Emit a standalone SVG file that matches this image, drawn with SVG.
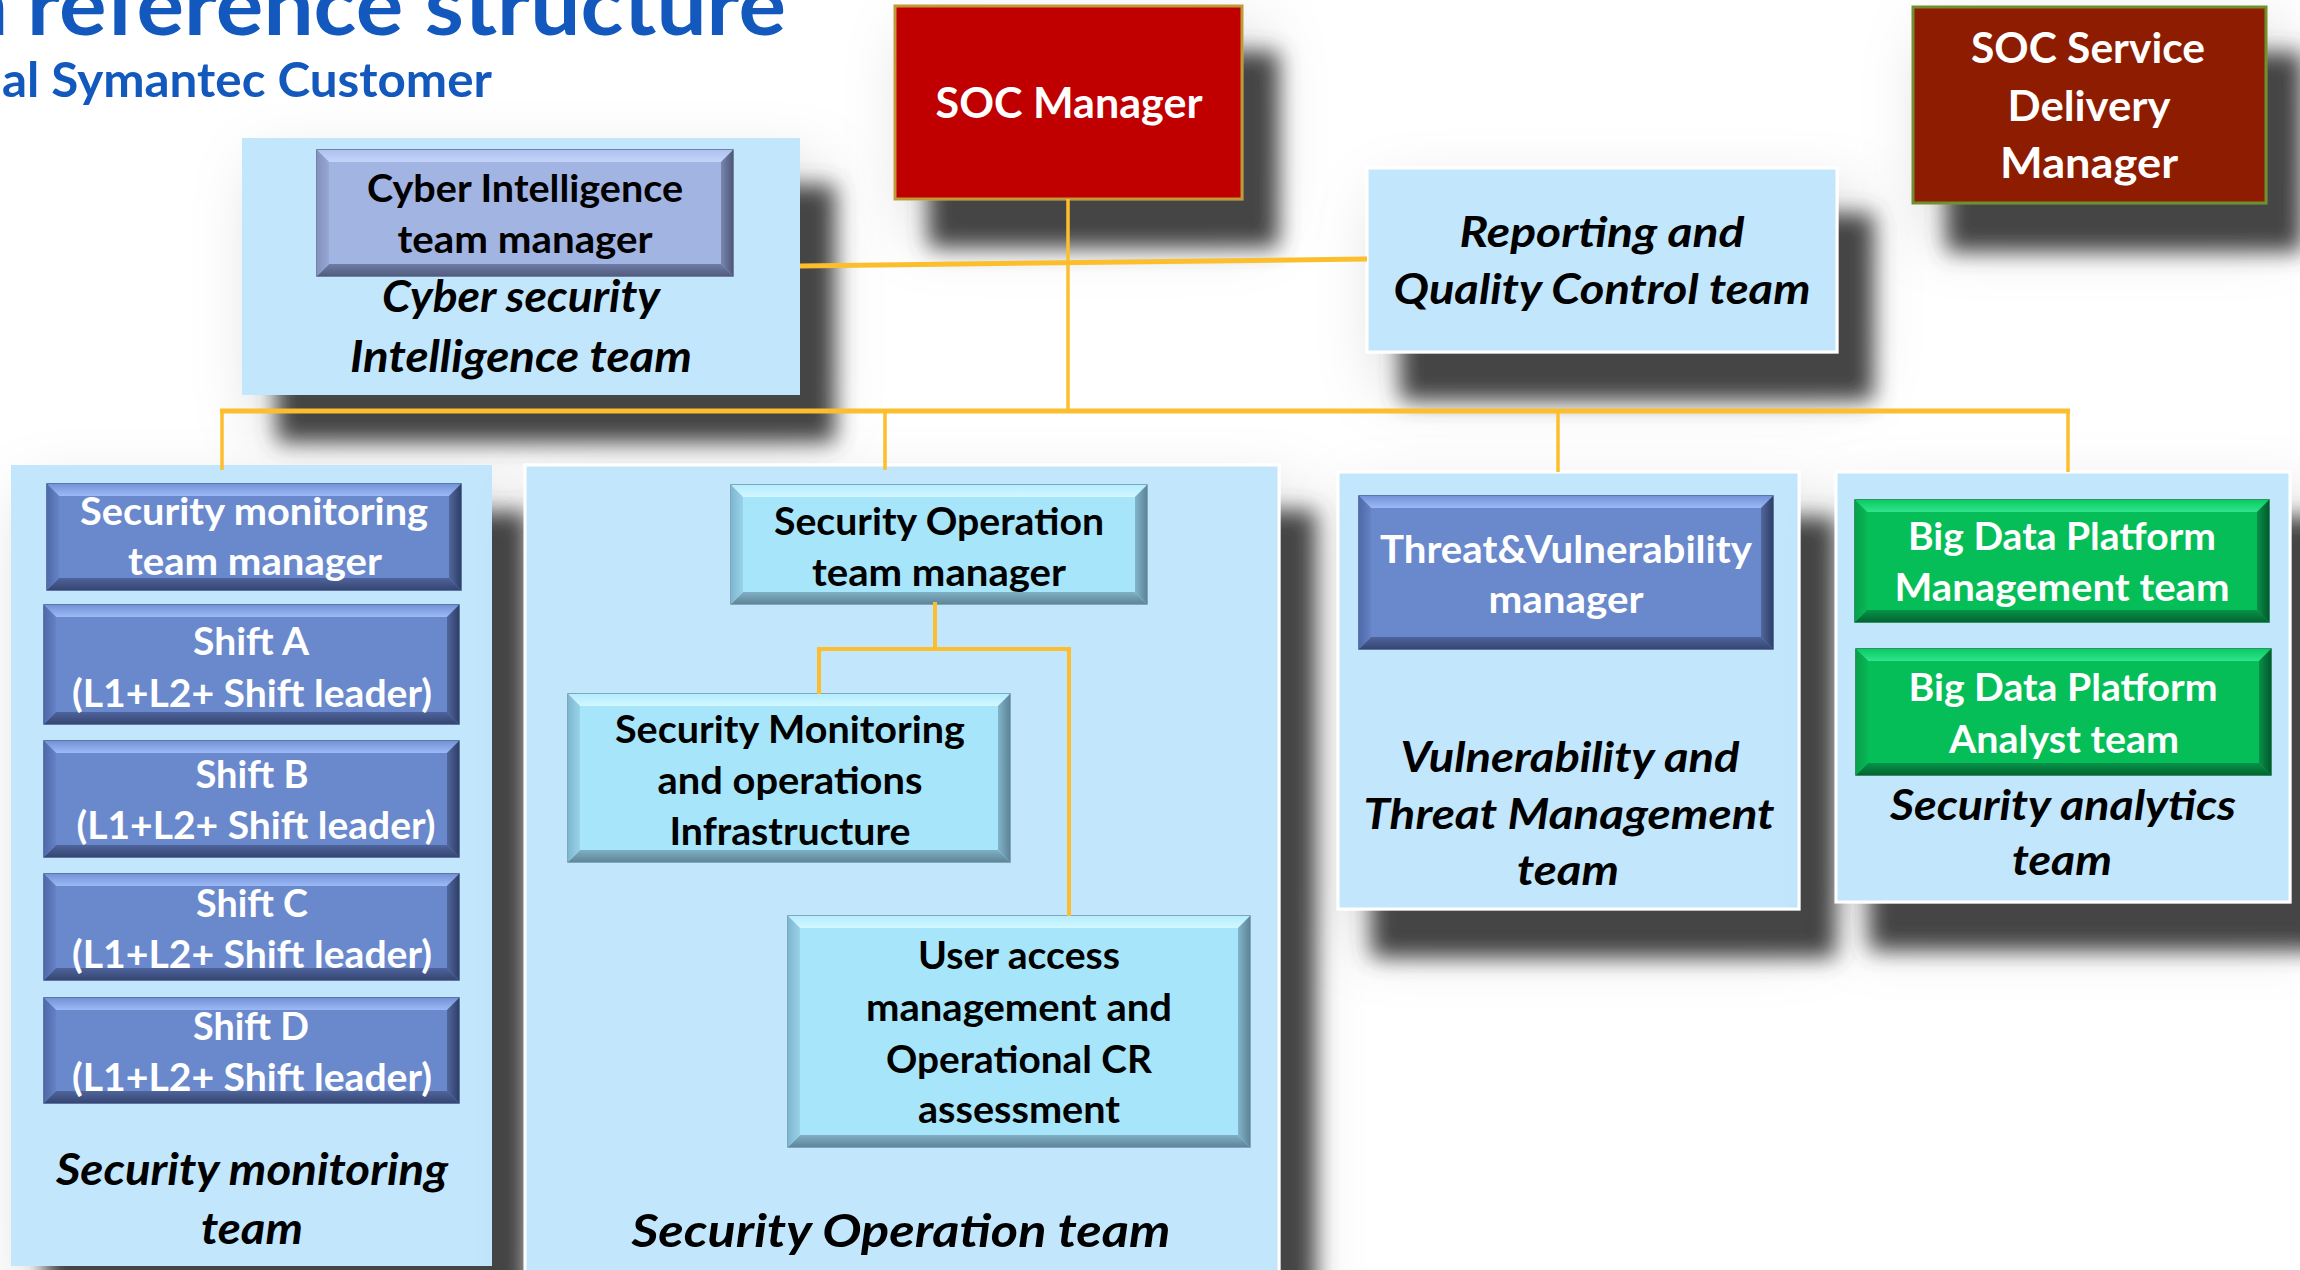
<svg xmlns="http://www.w3.org/2000/svg" width="2300" height="1270" viewBox="0 0 2300 1270">
  <style>
    .lbl{font-family:Lato,'Open Sans','Liberation Sans',sans-serif;font-weight:700;text-anchor:middle}
    .it{font-style:italic}
    .wt{fill:#ffffff}
    .bk{fill:#000000}
    .head{font-family:Lato,'Open Sans','Liberation Sans',sans-serif;font-weight:700;fill:#1358BC}
    .cont{fill:#C2E6FB}
    .wb{stroke:#ffffff;stroke-width:3}
    .conn{fill:none;stroke:#FDBE2E;stroke-linecap:butt}
    /* bevelled button faces */
    .blue0{fill:#6A89CD;stroke:#3D5186;stroke-width:1.5}
    .blueT{fill:url(#blueT)} .blueB{fill:url(#blueB)} .blueL{fill:url(#blueL)} .blueR{fill:url(#blueR)}
    .lav0{fill:#A2B4E2;stroke:#55618A;stroke-width:1.5}
    .lavT{fill:url(#lavT)} .lavB{fill:url(#lavB)} .lavL{fill:url(#lavL)} .lavR{fill:url(#lavR)}
    .cy0{fill:#A7E5FA;stroke:#6A93A8;stroke-width:1.5}
    .cyT{fill:url(#cyT)} .cyB{fill:url(#cyB)} .cyL{fill:url(#cyL)} .cyR{fill:url(#cyR)}
    .gr0{fill:#06BE58;stroke:#05733A;stroke-width:1.5}
    .grT{fill:url(#grT)} .grB{fill:url(#grB)} .grL{fill:url(#grL)} .grR{fill:url(#grR)}
  </style>
  <defs>
    <filter id="shadow" x="-30%" y="-40%" width="170%" height="200%">
      <feGaussianBlur in="SourceAlpha" stdDeviation="32" result="hb"/>
      <feOffset in="hb" dx="18" dy="30" result="ho"/>
      <feFlood flood-color="#000000" flood-opacity="0.17"/>
      <feComposite in2="ho" operator="in" result="haze"/>
      <feGaussianBlur in="SourceAlpha" stdDeviation="11" result="b"/>
      <feOffset in="b" dx="35" dy="47" result="o"/>
      <feFlood flood-color="#444444" flood-opacity="1"/>
      <feComposite in2="o" operator="in" result="dark"/>
      <feMerge>
        <feMergeNode in="haze"/>
        <feMergeNode in="dark"/>
        <feMergeNode in="SourceGraphic"/>
      </feMerge>
    </filter>
    <linearGradient id="blueT" x1="0" y1="0" x2="0" y2="1"><stop offset="0" stop-color="#7393D8"/><stop offset="1" stop-color="#9CB9F6"/></linearGradient>
    <linearGradient id="blueB" x1="0" y1="0" x2="0" y2="1"><stop offset="0" stop-color="#4E649C"/><stop offset="1" stop-color="#364672"/></linearGradient>
    <linearGradient id="blueL" x1="0" y1="0" x2="1" y2="0"><stop offset="0" stop-color="#4F69A8"/><stop offset="1" stop-color="#6482C6"/></linearGradient>
    <linearGradient id="blueR" x1="0" y1="0" x2="1" y2="0"><stop offset="0" stop-color="#50679F"/><stop offset="1" stop-color="#2F3F66"/></linearGradient>
    <linearGradient id="lavT" x1="0" y1="0" x2="0" y2="1"><stop offset="0" stop-color="#AFC1EE"/><stop offset="1" stop-color="#C4D4FA"/></linearGradient>
    <linearGradient id="lavB" x1="0" y1="0" x2="0" y2="1"><stop offset="0" stop-color="#6F7CA6"/><stop offset="1" stop-color="#525C7E"/></linearGradient>
    <linearGradient id="lavL" x1="0" y1="0" x2="1" y2="0"><stop offset="0" stop-color="#8391BD"/><stop offset="1" stop-color="#97A8D6"/></linearGradient>
    <linearGradient id="lavR" x1="0" y1="0" x2="1" y2="0"><stop offset="0" stop-color="#7886B0"/><stop offset="1" stop-color="#4E5878"/></linearGradient>
    <linearGradient id="cyT" x1="0" y1="0" x2="0" y2="1"><stop offset="0" stop-color="#B5EDFF"/><stop offset="1" stop-color="#D2F7FF"/></linearGradient>
    <linearGradient id="cyB" x1="0" y1="0" x2="0" y2="1"><stop offset="0" stop-color="#80AFC4"/><stop offset="1" stop-color="#5F8598"/></linearGradient>
    <linearGradient id="cyL" x1="0" y1="0" x2="1" y2="0"><stop offset="0" stop-color="#7FB6CF"/><stop offset="1" stop-color="#98D3EA"/></linearGradient>
    <linearGradient id="cyR" x1="0" y1="0" x2="1" y2="0"><stop offset="0" stop-color="#82B4CA"/><stop offset="1" stop-color="#5D8497"/></linearGradient>
    <linearGradient id="grT" x1="0" y1="0" x2="0" y2="1"><stop offset="0" stop-color="#0ACB62"/><stop offset="1" stop-color="#30E48C"/></linearGradient>
    <linearGradient id="grB" x1="0" y1="0" x2="0" y2="1"><stop offset="0" stop-color="#06934A"/><stop offset="1" stop-color="#04642F"/></linearGradient>
    <linearGradient id="grL" x1="0" y1="0" x2="1" y2="0"><stop offset="0" stop-color="#07A14B"/><stop offset="1" stop-color="#09B654"/></linearGradient>
    <linearGradient id="grR" x1="0" y1="0" x2="1" y2="0"><stop offset="0" stop-color="#07914A"/><stop offset="1" stop-color="#045A2C"/></linearGradient>
  </defs>

  <rect width="2300" height="1270" fill="#ffffff"/>

  <!-- page heading -->
  <g id="heading">
    <text class="head" x="8" y="35" font-size="85" text-anchor="end">a</text>
    <text class="head" x="27" y="35" font-size="85" textLength="759" lengthAdjust="spacingAndGlyphs">reference structure</text>
    <text class="head" x="2" y="97" font-size="48" textLength="490" lengthAdjust="spacingAndGlyphs">al Symantec Customer</text>
  </g>

  <!-- top level -->
  <g id="soc-manager">
    <rect x="895" y="6" width="347" height="193" fill="#C00000" stroke="#BF9A3A" stroke-width="3" filter="url(#shadow)"/>
    <text class="lbl wt" x="1069" y="118" font-size="42" textLength="267" lengthAdjust="spacingAndGlyphs">SOC Manager</text>
  </g>

  <g id="soc-service-delivery-manager">
    <rect x="1913" y="7" width="353" height="196" fill="#8E1B03" stroke="#6F8F2F" stroke-width="3" filter="url(#shadow)"/>
    <text class="lbl wt" x="2088" y="63" font-size="42" textLength="234" lengthAdjust="spacingAndGlyphs">SOC Service</text>
    <text class="lbl wt" x="2089" y="121" font-size="42" textLength="163" lengthAdjust="spacingAndGlyphs">Delivery</text>
    <text class="lbl wt" x="2089" y="178" font-size="42" textLength="178" lengthAdjust="spacingAndGlyphs">Manager</text>
  </g>

  <g id="cyber-intelligence-team">
    <rect class="cont" x="242" y="138" width="558" height="257" filter="url(#shadow)"/>
    <g id="cyber-intelligence-manager">
      <rect class="lav0" x="317" y="150" width="416" height="126"/>
      <polygon class="lavT" points="317,150 733,150 721,162 329,162"/>
      <polygon class="lavB" points="317,276 733,276 721,264 329,264"/>
      <polygon class="lavL" points="317,150 329,162 329,264 317,276"/>
      <polygon class="lavR" points="733,150 721,162 721,264 733,276"/>
      <text class="lbl bk" x="525" y="202" font-size="38" textLength="316" lengthAdjust="spacingAndGlyphs">Cyber Intelligence</text>
      <text class="lbl bk" x="525" y="253" font-size="38" textLength="255" lengthAdjust="spacingAndGlyphs">team manager</text>
    </g>
    <text class="lbl bk it" x="521" y="312" font-size="43" textLength="278" lengthAdjust="spacingAndGlyphs">Cyber security</text>
    <text class="lbl bk it" x="521" y="372" font-size="43" textLength="342" lengthAdjust="spacingAndGlyphs">Intelligence team</text>
  </g>

  <g id="reporting-quality-control-team">
    <rect class="cont wb" x="1367" y="168" width="470" height="184" filter="url(#shadow)"/>
    <text class="lbl bk it" x="1602" y="247" font-size="42" textLength="285" lengthAdjust="spacingAndGlyphs">Reporting and</text>
    <text class="lbl bk it" x="1602" y="304" font-size="42" textLength="417" lengthAdjust="spacingAndGlyphs">Quality Control team</text>
  </g>

  <!-- second level teams -->
  <g id="security-monitoring-team">
    <rect class="cont" x="11" y="465" width="481" height="801" filter="url(#shadow)"/>
    <g id="security-monitoring-manager">
      <rect class="blue0" x="47" y="484" width="414" height="106"/>
      <polygon class="blueT" points="47,484 461,484 449,496 59,496"/>
      <polygon class="blueB" points="47,590 461,590 449,578 59,578"/>
      <polygon class="blueL" points="47,484 59,496 59,578 47,590"/>
      <polygon class="blueR" points="461,484 449,496 449,578 461,590"/>
      <text class="lbl wt" x="254" y="525" font-size="38" textLength="348" lengthAdjust="spacingAndGlyphs">Security monitoring</text>
      <text class="lbl wt" x="255" y="575" font-size="38" textLength="254" lengthAdjust="spacingAndGlyphs">team manager</text>
    </g>
    <g id="shift-a">
      <rect class="blue0" x="44" y="605" width="415" height="119"/>
      <polygon class="blueT" points="44,605 459,605 447,617 56,617"/>
      <polygon class="blueB" points="44,724 459,724 447,712 56,712"/>
      <polygon class="blueL" points="44,605 56,617 56,712 44,724"/>
      <polygon class="blueR" points="459,605 447,617 447,712 459,724"/>
      <text class="lbl wt" x="251" y="655" font-size="38" textLength="116" lengthAdjust="spacingAndGlyphs">Shift A</text>
      <text class="lbl wt" x="252" y="707" font-size="38" textLength="360" lengthAdjust="spacingAndGlyphs">(L1+L2+ Shift leader)</text>
    </g>
    <g id="shift-b">
      <rect class="blue0" x="44" y="741" width="415" height="116"/>
      <polygon class="blueT" points="44,741 459,741 447,753 56,753"/>
      <polygon class="blueB" points="44,857 459,857 447,845 56,845"/>
      <polygon class="blueL" points="44,741 56,753 56,845 44,857"/>
      <polygon class="blueR" points="459,741 447,753 447,845 459,857"/>
      <text class="lbl wt" x="252" y="788" font-size="38" textLength="113" lengthAdjust="spacingAndGlyphs">Shift B</text>
      <text class="lbl wt" x="256" y="839" font-size="38" textLength="359" lengthAdjust="spacingAndGlyphs">(L1+L2+ Shift leader)</text>
    </g>
    <g id="shift-c">
      <rect class="blue0" x="44" y="874" width="415" height="106"/>
      <polygon class="blueT" points="44,874 459,874 447,886 56,886"/>
      <polygon class="blueB" points="44,980 459,980 447,968 56,968"/>
      <polygon class="blueL" points="44,874 56,886 56,968 44,980"/>
      <polygon class="blueR" points="459,874 447,886 447,968 459,980"/>
      <text class="lbl wt" x="252" y="917" font-size="38" textLength="112" lengthAdjust="spacingAndGlyphs">Shift C</text>
      <text class="lbl wt" x="252" y="968" font-size="38" textLength="360" lengthAdjust="spacingAndGlyphs">(L1+L2+ Shift leader)</text>
    </g>
    <g id="shift-d">
      <rect class="blue0" x="44" y="998" width="415" height="105"/>
      <polygon class="blueT" points="44,998 459,998 447,1010 56,1010"/>
      <polygon class="blueB" points="44,1103 459,1103 447,1091 56,1091"/>
      <polygon class="blueL" points="44,998 56,1010 56,1091 44,1103"/>
      <polygon class="blueR" points="459,998 447,1010 447,1091 459,1103"/>
      <text class="lbl wt" x="251" y="1040" font-size="38" textLength="116" lengthAdjust="spacingAndGlyphs">Shift D</text>
      <text class="lbl wt" x="252" y="1091" font-size="38" textLength="360" lengthAdjust="spacingAndGlyphs">(L1+L2+ Shift leader)</text>
    </g>
    <text class="lbl bk it" x="252" y="1185" font-size="43" textLength="392" lengthAdjust="spacingAndGlyphs">Security monitoring</text>
    <text class="lbl bk it" x="252" y="1244" font-size="43" textLength="102" lengthAdjust="spacingAndGlyphs">team</text>
  </g>

  <g id="security-operation-team">
    <rect class="cont wb" x="525" y="465" width="754" height="830" filter="url(#shadow)"/>
    <g id="security-operation-manager">
      <rect class="cy0" x="731" y="485" width="416" height="119"/>
      <polygon class="cyT" points="731,485 1147,485 1135,497 743,497"/>
      <polygon class="cyB" points="731,604 1147,604 1135,592 743,592"/>
      <polygon class="cyL" points="731,485 743,497 743,592 731,604"/>
      <polygon class="cyR" points="1147,485 1135,497 1135,592 1147,604"/>
      <text class="lbl bk" x="939" y="535" font-size="38" textLength="330" lengthAdjust="spacingAndGlyphs">Security Operation</text>
      <text class="lbl bk" x="939" y="586" font-size="38" textLength="254" lengthAdjust="spacingAndGlyphs">team manager</text>
    </g>
    <g id="monitoring-operations-infrastructure">
      <rect class="cy0" x="568" y="694" width="442" height="168"/>
      <polygon class="cyT" points="568,694 1010,694 998,706 580,706"/>
      <polygon class="cyB" points="568,862 1010,862 998,850 580,850"/>
      <polygon class="cyL" points="568,694 580,706 580,850 568,862"/>
      <polygon class="cyR" points="1010,694 998,706 998,850 1010,862"/>
      <text class="lbl bk" x="790" y="743" font-size="38" textLength="350" lengthAdjust="spacingAndGlyphs">Security Monitoring</text>
      <text class="lbl bk" x="790" y="794" font-size="38" textLength="265" lengthAdjust="spacingAndGlyphs">and operations</text>
      <text class="lbl bk" x="790" y="845" font-size="38" textLength="241" lengthAdjust="spacingAndGlyphs">Infrastructure</text>
    </g>
    <g id="user-access-management">
      <rect class="cy0" x="788" y="916" width="462" height="231"/>
      <polygon class="cyT" points="788,916 1250,916 1238,928 800,928"/>
      <polygon class="cyB" points="788,1147 1250,1147 1238,1135 800,1135"/>
      <polygon class="cyL" points="788,916 800,928 800,1135 788,1147"/>
      <polygon class="cyR" points="1250,916 1238,928 1238,1135 1250,1147"/>
      <text class="lbl bk" x="1019" y="969" font-size="38" textLength="202" lengthAdjust="spacingAndGlyphs">User access</text>
      <text class="lbl bk" x="1019" y="1021" font-size="38" textLength="306" lengthAdjust="spacingAndGlyphs">management and</text>
      <text class="lbl bk" x="1019" y="1073" font-size="38" textLength="266" lengthAdjust="spacingAndGlyphs">Operational CR</text>
      <text class="lbl bk" x="1019" y="1123" font-size="38" textLength="202" lengthAdjust="spacingAndGlyphs">assessment</text>
    </g>
    <text class="lbl bk it" x="901" y="1247" font-size="45" textLength="539" lengthAdjust="spacingAndGlyphs">Security Operation team</text>
  </g>

  <g id="vulnerability-threat-management-team">
    <rect class="cont wb" x="1338" y="472" width="461" height="437" filter="url(#shadow)"/>
    <g id="threat-vulnerability-manager">
      <rect class="blue0" x="1359" y="496" width="414" height="153"/>
      <polygon class="blueT" points="1359,496 1773,496 1761,508 1371,508"/>
      <polygon class="blueB" points="1359,649 1773,649 1761,637 1371,637"/>
      <polygon class="blueL" points="1359,496 1371,508 1371,637 1359,649"/>
      <polygon class="blueR" points="1773,496 1761,508 1761,637 1773,649"/>
      <text class="lbl wt" x="1566" y="563" font-size="38" textLength="372" lengthAdjust="spacingAndGlyphs">Threat&amp;Vulnerability</text>
      <text class="lbl wt" x="1566" y="613" font-size="38" textLength="155" lengthAdjust="spacingAndGlyphs">manager</text>
    </g>
    <text class="lbl bk it" x="1570" y="772" font-size="42" textLength="339" lengthAdjust="spacingAndGlyphs">Vulnerability and</text>
    <text class="lbl bk it" x="1569" y="829" font-size="42" textLength="411" lengthAdjust="spacingAndGlyphs">Threat Management</text>
    <text class="lbl bk it" x="1568" y="885" font-size="42" textLength="102" lengthAdjust="spacingAndGlyphs">team</text>
  </g>

  <g id="security-analytics-team">
    <rect class="cont wb" x="1836" y="472" width="454" height="430" filter="url(#shadow)"/>
    <g id="big-data-platform-management">
      <rect class="gr0" x="1855" y="500" width="414" height="122"/>
      <polygon class="grT" points="1855,500 2269,500 2257,512 1867,512"/>
      <polygon class="grB" points="1855,622 2269,622 2257,610 1867,610"/>
      <polygon class="grL" points="1855,500 1867,512 1867,610 1855,622"/>
      <polygon class="grR" points="2269,500 2257,512 2257,610 2269,622"/>
      <text class="lbl wt" x="2062" y="550" font-size="38" textLength="308" lengthAdjust="spacingAndGlyphs">Big Data Platform</text>
      <text class="lbl wt" x="2062" y="601" font-size="38" textLength="335" lengthAdjust="spacingAndGlyphs">Management team</text>
    </g>
    <g id="big-data-platform-analyst">
      <rect class="gr0" x="1856" y="649" width="415" height="126"/>
      <polygon class="grT" points="1856,649 2271,649 2259,661 1868,661"/>
      <polygon class="grB" points="1856,775 2271,775 2259,763 1868,763"/>
      <polygon class="grL" points="1856,649 1868,661 1868,763 1856,775"/>
      <polygon class="grR" points="2271,649 2259,661 2259,763 2271,775"/>
      <text class="lbl wt" x="2063" y="701" font-size="38" textLength="309" lengthAdjust="spacingAndGlyphs">Big Data Platform</text>
      <text class="lbl wt" x="2064" y="753" font-size="38" textLength="230" lengthAdjust="spacingAndGlyphs">Analyst team</text>
    </g>
    <text class="lbl bk it" x="2063" y="820" font-size="42" textLength="346" lengthAdjust="spacingAndGlyphs">Security analytics</text>
    <text class="lbl bk it" x="2062" y="875" font-size="42" textLength="100" lengthAdjust="spacingAndGlyphs">team</text>
  </g>

  <!-- reporting lines -->
  <g id="connectors" class="conn">
    <path d="M1068,199 V411" stroke-width="3.5"/>
    <path d="M800,266 L1367,259" stroke-width="5"/>
    <path d="M220,411 H2070" stroke-width="5"/>
    <path d="M222,411 V470" stroke-width="3.5"/>
    <path d="M885,411 V470" stroke-width="3.5"/>
    <path d="M1558,411 V472" stroke-width="3.5"/>
    <path d="M2068,411 V472" stroke-width="3.5"/>
    <path d="M935,602 V649" stroke-width="4"/>
    <path d="M819,694 V649 H1069 V916" stroke-width="4"/>
  </g>
</svg>
